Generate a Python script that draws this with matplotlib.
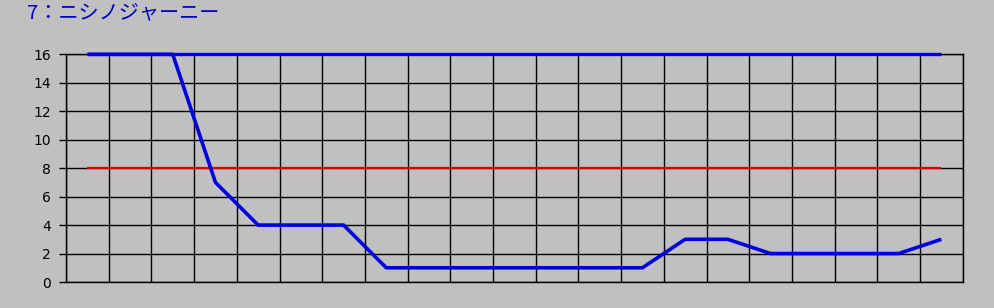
import matplotlib
matplotlib.use("Agg")
import matplotlib.pyplot as plt
import numpy as np

# data
title = "7：ニシノジャーニー"
values = [16, 16, 16, 7, 4, 4, 4, 1, 1, 1, 1, 1, 1, 1, 3, 3, 2, 2, 2, 2, 3]
upper = 16
middle = 8
y_ticks = [0, 2, 4, 6, 8, 10, 12, 14, 16]

bg = "#c0c0c0"
fig = plt.figure(figsize=(9.94, 3.08), dpi=100, facecolor=bg)
W, H = 994, 308
ax = fig.add_axes([66 / W, (H - 282) / H, (962.7 - 66) / W, (282 - 54.3) / H])
ax.set_facecolor(bg)

n = len(values)
x = np.arange(n) + 0.5

ax.plot([x[0], x[-1]], [upper, upper], color="#0000e0", lw=2.4, solid_capstyle="butt", zorder=3, clip_on=False)
ax.plot([x[0], x[-1]], [middle, middle], color="#e00000", lw=1.6, solid_capstyle="butt", zorder=3)
ax.plot(x, values, color="#0000e0", lw=2.6, solid_capstyle="butt", zorder=4, clip_on=False)

ax.set_xlim(0, n)
ax.set_ylim(0, 16)
ax.set_xticks(np.arange(n + 1))
ax.set_xticklabels([])
ax.tick_params(axis="x", length=0)
ax.set_yticks(y_ticks)
ax.tick_params(axis="y", length=5, width=1, pad=6, labelsize=10, colors="black")
ax.grid(True, color="black", lw=1)
ax.set_axisbelow(True)
for s in ax.spines.values():
    s.set_color("black")
    s.set_linewidth(1)

fig.text(27 / W, 1 - 14 / H, title, color="#0000c0", fontsize=14.5,
         family=["Noto Sans CJK JP", "DejaVu Sans"], va="center", ha="left")

fig.savefig("out.png", dpi=100, facecolor=bg)
